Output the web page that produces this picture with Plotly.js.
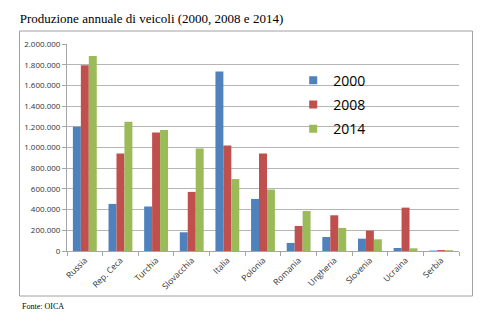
<!DOCTYPE html>
<html>
<head>
<meta charset="utf-8">
<script src="https://cdn.plot.ly/plotly-3.0.1.min.js"></script>
<style>html,body{margin:0;padding:0;background:#fff;}#chart{width:492px;height:324px;}</style>
</head>
<body>
<div id="chart"></div>
<script>
const categories = ["Russia", "Rep. Ceca", "Turchia", "Slovacchia", "Italia", "Polonia", "Romania", "Ungheria", "Slovenia", "Ucraina", "Serbia"];
const seriesNames = ["2000", "2008", "2014"];
const values2000 = [1200000, 455000, 430000, 181000, 1735000, 503000, 78000, 135000, 119000, 29000, 4000];
const values2008 = [1794000, 942000, 1145000, 571000, 1020000, 942000, 242000, 345000, 197000, 419000, 9000];
const values2014 = [1884000, 1248000, 1168000, 990000, 695000, 594000, 387000, 223000, 113000, 26000, 8000];
const colors = ["#4F81BD", "#C0504D", "#9BBB59"];
const allValues = [values2000, values2008, values2014];

const traces = [];
allValues.forEach((vals, i) => {
  traces.push({
    type: "bar", x: categories, y: vals, name: seriesNames[i],
    marker: {color: colors[i]}, showlegend: false, hoverinfo: "skip"
  });
});
allValues.forEach((vals, i) => {
  traces.push({
    type: "scatter", mode: "markers", x: [null], y: [null], name: seriesNames[i],
    marker: {color: colors[i], symbol: "square", size: 8}, legendgroup: "g" + i
  });
});

const grey = "#a6a6a6";
const layout = {
  width: 492, height: 324,
  margin: {l: 67, r: 33, t: 44, b: 73, pad: 0},
  paper_bgcolor: "#fff", plot_bgcolor: "#fff",
  separators: ",.",
  barmode: "group", bargap: 0.33, bargroupgap: 0,
  font: {family: "Open Sans, sans-serif", color: "#333", size: 8},
  title: {
    text: "Produzione annuale di veicoli (2000, 2008 e 2014)",
    font: {family: "Liberation Serif, serif", size: 13, color: "#000"},
    xref: "container", x: 0.04, xanchor: "left",
    yref: "container", y: 0.944, yanchor: "middle"
  },
  xaxis: {
    type: "category", tickangle: -45, tickson: "boundaries",
    ticks: "outside", ticklen: 4, tickcolor: grey,
    showline: true, linecolor: grey, linewidth: 1,
    showgrid: false, tickfont: {size: 8.5, color: "#333"}, fixedrange: true
  },
  yaxis: {
    range: [0, 2000000], dtick: 200000, tick0: 0, tickformat: ",",
    ticks: "outside", ticklen: 4, tickcolor: grey,
    showline: true, linecolor: grey, linewidth: 1,
    showgrid: true, gridcolor: "#b5b5b5", gridwidth: 1, zeroline: false,
    tickfont: {size: 8, color: "#333"}, fixedrange: true
  },
  legend: {
    x: 0.577, xanchor: "left", y: 0.9, yanchor: "top",
    bgcolor: "rgba(0,0,0,0)", borderwidth: 0,
    font: {family: "Open Sans, sans-serif", size: 14, color: "#000"},
    traceorder: "grouped", tracegroupgap: 3, itemwidth: 30
  },
  shapes: [
    {type: "rect", xref: "paper", yref: "paper", x0: (313-67)/392, x1: (371-67)/392, y0: (251-142)/207, y1: (251-68)/207,
     fillcolor: "#fff", line: {width: 0}, layer: "between"},
    {type: "rect", xref: "paper", yref: "paper", x0: -0.1212, x1: 1.0344, y0: -0.2174, y1: 1.0628,
     line: {color: "#a0a0a0", width: 1}, fillcolor: "rgba(0,0,0,0)"}
  ],
  annotations: [
    {text: "Fonte: OICA", xref: "paper", yref: "paper", x: -0.12, y: -0.266, xanchor: "left", yanchor: "middle",
     showarrow: false, font: {family: "Liberation Serif, serif", size: 8, color: "#000"}}
  ]
};
Plotly.newPlot("chart", traces, layout, {displayModeBar: false, staticPlot: true});
</script>
</body>
</html>
